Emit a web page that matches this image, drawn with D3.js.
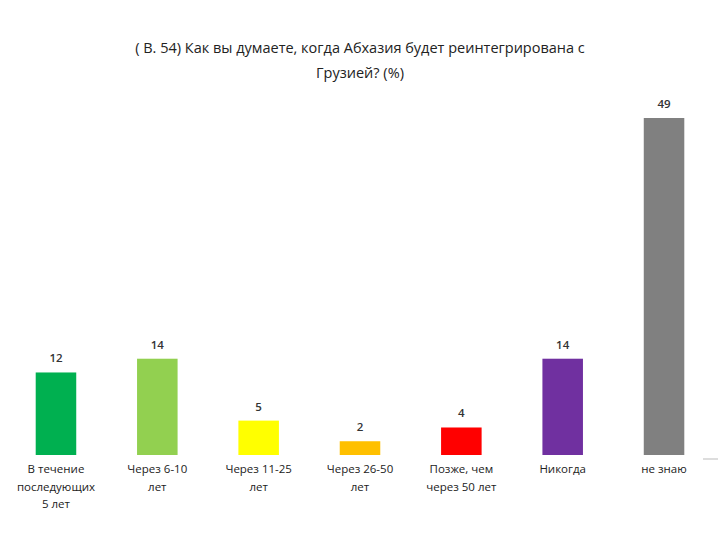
<!DOCTYPE html>
<html><head><meta charset="utf-8">
<script src="https://cdn.jsdelivr.net/npm/d3@7"></script>
<style>body{margin:0;background:#fff}</style></head>
<body><svg id="c" width="720" height="540"></svg>
<script>
const categories=[["В течение","последующих","5 лет"],["Через 6-10","лет"],["Через 11-25","лет"],["Через 26-50","лет"],["Позже, чем","через 50 лет"],["Никогда"],["не знаю"]];
const values=[12,14,5,2,4,14,49];
const colors=["#00b050","#92d050","#ffff00","#ffc000","#ff0000","#7030a0","#808080"];
const titleLines=["( В. 54)  Как вы думаете, когда Абхазия будет реинтегрирована с","Грузией? (%)"];
const svg=d3.select("#c");
const font="'Open Sans', sans-serif";
const x=d3.scaleBand().domain(d3.range(values.length)).range([5.3,714.7]).paddingInner(0.6).paddingOuter(0.3);
const y=d3.scaleLinear().domain([0,49]).range([455,118]);
svg.selectAll("text.t").data(titleLines).enter().append("text")
 .attr("x",360).attr("y",(d,i)=>53+i*25).attr("text-anchor","middle")
 .attr("font-family",font).attr("font-size",14.5).attr("fill","#222").text(d=>d);
svg.selectAll("rect").data(values).enter().append("rect")
 .attr("x",(d,i)=>x(i)).attr("width",x.bandwidth()).attr("y",d=>y(d)).attr("height",d=>455-y(d))
 .attr("fill",(d,i)=>colors[i]);
svg.selectAll("text.v").data(values).enter().append("text")
 .attr("x",(d,i)=>x(i)+x.bandwidth()/2).attr("y",d=>y(d)-10).attr("text-anchor","middle")
 .attr("font-family",font).attr("font-size",11.5).attr("font-weight",600).attr("fill","#333").text(d=>d);
categories.forEach((lines,i)=>{
 svg.append("text").attr("x",x(i)+x.bandwidth()/2).attr("y",473).attr("text-anchor","middle")
  .attr("font-family",font).attr("font-size",11.5).attr("fill","#222")
  .selectAll("tspan").data(lines).enter().append("tspan")
  .attr("x",x(i)+x.bandwidth()/2).attr("dy",(d,j)=>j?17.5:0).text(d=>d);
});
svg.append("line").attr("x1",703).attr("x2",718).attr("y1",459).attr("y2",459).attr("stroke","#bbb");
</script></body></html>
